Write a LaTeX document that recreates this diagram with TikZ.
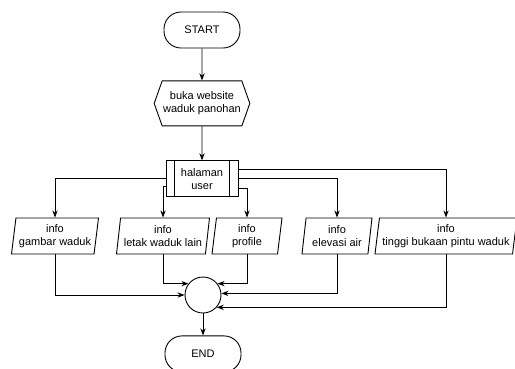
\documentclass[tikz,border=0pt]{standalone}
\usepackage{fontspec}
\setmainfont{Liberation Sans}
\usetikzlibrary{positioning,arrows.meta,shapes.geometric,shapes.symbols}

\begin{document}
\begin{tikzpicture}[x=1pt,y=-1pt,>=Stealth,line width=0.9pt,node distance=32pt,every node/.style={font=\fontsize{11}{13}\selectfont}]
\tikzstyle{term}=[draw,rounded corners=17pt,minimum width=76pt,minimum height=36pt]
\tikzstyle{prep}=[draw,signal,signal to=west and east,signal pointer angle=141,minimum width=93pt,minimum height=45pt,align=center,inner sep=1pt]
\tikzstyle{proc}=[draw,minimum width=72pt,minimum height=36pt,align=center]
\tikzstyle{io}=[draw,trapezium,trapezium left angle=80,trapezium right angle=100,trapezium stretches body,minimum height=36pt,align=center,inner sep=1pt]
\tikzstyle{merge}=[draw,circle,minimum size=36pt,inner sep=0pt]
\useasboundingbox (0,0) rectangle (515,368);
\node[term] (start) at (202,30) {START};
\node[prep,below=of start] (buka) {buka website\\waduk panohan};
\node[proc,below=34pt of buka] (user) {halaman\\user};
\draw ([xshift=9pt]user.north west) -- ([xshift=9pt]user.south west);
\draw ([xshift=-9pt]user.north east) -- ([xshift=-9pt]user.south east);
\node[io,minimum width=87pt] (gambar) at (55,236) {info\\gambar waduk};
\node[io,minimum width=93pt] (letak) at (163,236) {info\\letak waduk lain};
\node[io,minimum width=70pt] (profile) at (247,236) {info\\profile};
\node[io,minimum width=70pt] (elevasi) at (337,236) {info\\elevasi air};
\node[io,minimum width=142pt] (tinggi) at (446,236) {info\\tinggi bukaan pintu waduk};
\node[merge] (gabung) at (203,295) {};
\node[term,below=22pt of gabung] (end) {END};
% alur utama
\draw[->] (start) -- (buka);
\draw[->] (buka) -- (user);
% cabang dari halaman user
\draw[->] (user.west) -| (gambar);
\draw[->] ([yshift=-8pt]user.west) -| (letak);
\draw[->] ([yshift=-10pt]user.east) -| (profile);
\draw[->] (user.east) -| (elevasi);
\draw[->] ([yshift=9pt]user.east) -| (tinggi);
% kembali ke titik gabung
\draw[->] (gambar) |- (gabung);
\draw[->] (letak) |- (gabung.142);
\draw[->] (profile) |- (gabung.38);
\draw[->] (elevasi) |- (gabung.5);
\draw[->] (tinggi) |- (gabung.-42);
\draw[->] (gabung) -- (end);
\end{tikzpicture}
\end{document}
